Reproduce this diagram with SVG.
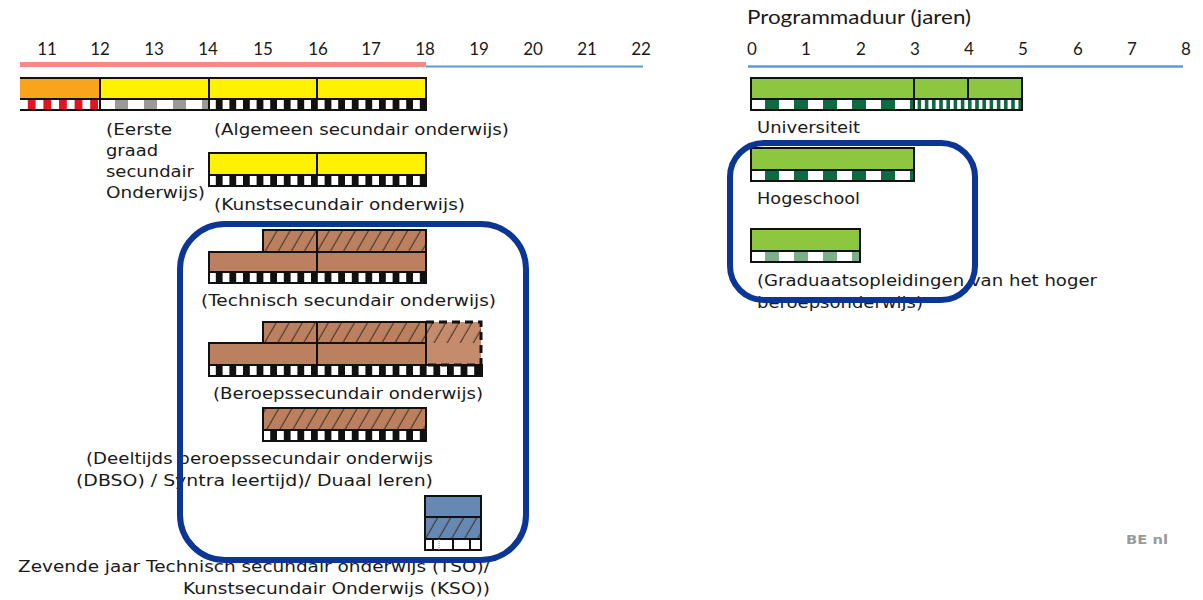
<svg xmlns="http://www.w3.org/2000/svg" width="1203" height="600" viewBox="0 0 1203 600">
<defs>
<style>
.ln{fill:none;stroke:#111;stroke-width:2}
.brown{fill:#bb8060}
.hatch{fill:url(#hatch)}
.bw{fill:url(#pBW)}
.white{fill:#fff}
.t{font-family:"DejaVu Sans",Verdana,sans-serif;font-size:15.5px;fill:#1a1a1a}
.ax{font-family:Lato,"Open Sans",sans-serif;font-size:17px;fill:#1a1a1a;text-anchor:middle}
.hl{fill:none;stroke:#0b3694;stroke-width:6}
.green{fill:#8dc63f}
</style>
<pattern id="pBW" patternUnits="userSpaceOnUse" x="209" y="0" width="13.6" height="40"><rect x="6.8" y="0" width="6.8" height="40" fill="#111"/></pattern>
<pattern id="pRed" patternUnits="userSpaceOnUse" x="20" y="0" width="15.6" height="40"><rect x="7.8" y="0" width="7.8" height="40" fill="#e3141c"/></pattern>
<pattern id="pGray" patternUnits="userSpaceOnUse" x="100" y="0" width="29" height="40"><rect x="15" y="0" width="13" height="40" fill="#9a9a9a"/></pattern>
<pattern id="pDG" patternUnits="userSpaceOnUse" x="751" y="0" width="29" height="40"><rect x="14" y="0" width="14" height="40" fill="#0d6b3f"/></pattern>
<pattern id="pLG" patternUnits="userSpaceOnUse" x="751" y="0" width="29" height="40"><rect x="14" y="0" width="14" height="40" fill="#7daf8a"/></pattern>
<pattern id="pDGf" patternUnits="userSpaceOnUse" x="914" y="0" width="7.2" height="40"><rect x="3.6" y="0" width="3.6" height="40" fill="#0d6b3f"/></pattern>
<pattern id="hatch" patternUnits="userSpaceOnUse" width="11.3" height="20" patternTransform="rotate(30)"><line x1="5" y1="-2" x2="5" y2="22" stroke="#3b2a1e" stroke-width="1"/></pattern>
</defs>
<rect width="1203" height="600" fill="#fff"/>

<g id="axis-left">
<line x1="20" y1="64.5" x2="426" y2="64.5" stroke="#f28b82" stroke-width="5"/>
<line x1="426" y1="66.5" x2="643" y2="66.5" stroke="#5b9bd5" stroke-width="2"/>
<text class="ax" x="47" y="55">11</text>
<text class="ax" x="100" y="55">12</text>
<text class="ax" x="154" y="55">13</text>
<text class="ax" x="208" y="55">14</text>
<text class="ax" x="263" y="55">15</text>
<text class="ax" x="318" y="55">16</text>
<text class="ax" x="371" y="55">17</text>
<text class="ax" x="425" y="55">18</text>
<text class="ax" x="479" y="55">19</text>
<text class="ax" x="533" y="55">20</text>
<text class="ax" x="587" y="55">21</text>
<text class="ax" x="641" y="55">22</text>
</g>

<g id="axis-right">
<text x="747" y="24" font-family="Lato,'Open Sans',sans-serif" font-size="20" fill="#1a1a1a" textLength="224" lengthAdjust="spacingAndGlyphs">Programmaduur (jaren)</text>
<line x1="748" y1="66.5" x2="1183" y2="66.5" stroke="#5b9bd5" stroke-width="2.5"/>
<text class="ax" x="752" y="55">0</text>
<text class="ax" x="806" y="55">1</text>
<text class="ax" x="861" y="55">2</text>
<text class="ax" x="915" y="55">3</text>
<text class="ax" x="969" y="55">4</text>
<text class="ax" x="1023" y="55">5</text>
<text class="ax" x="1078" y="55">6</text>
<text class="ax" x="1132" y="55">7</text>
<text class="ax" x="1186" y="55">8</text>
</g>

<g id="node-eerste-graad">
<rect x="20" y="78" width="80" height="21" fill="#f8a51b"/>
<rect x="20" y="99" width="80" height="11" fill="#fff"/>
<rect x="20" y="99" width="80" height="11" fill="url(#pRed)"/>
<rect x="100" y="99" width="109" height="11" fill="#fff"/>
<rect x="100" y="99" width="109" height="11" fill="url(#pGray)"/>
<text class="t" x="106" y="135" textLength="66" lengthAdjust="spacingAndGlyphs">(Eerste</text>
<text class="t" x="106" y="156" textLength="52" lengthAdjust="spacingAndGlyphs">graad</text>
<text class="t" x="106" y="177" textLength="88" lengthAdjust="spacingAndGlyphs">secundair</text>
<text class="t" x="106" y="198" textLength="99" lengthAdjust="spacingAndGlyphs">Onderwijs)</text>
</g>

<g id="node-algemeen">
<rect x="100" y="78" width="326" height="21" fill="#fff200"/>
<rect x="209" y="99" width="217" height="11" fill="#fff"/>
<rect x="209" y="99" width="217" height="11" class="bw"/>
<path class="ln" d="M20 78H426V110H20M20 99H426M100 78V110M209 78V110M317 78V99"/>
<text class="t" x="214" y="135" textLength="295" lengthAdjust="spacingAndGlyphs">(Algemeen secundair onderwijs)</text>
</g>

<g id="node-kunst">
<rect x="209" y="153" width="217" height="22" fill="#fff200"/>
<rect x="209" y="175" width="217" height="11" fill="#fff"/>
<rect x="209" y="175" width="217" height="11" class="bw"/>
<path class="ln" d="M209 153H426V186H209ZM209 175H426M317 153V175"/>
<text class="t" x="214" y="210" textLength="251" lengthAdjust="spacingAndGlyphs">(Kunstsecundair onderwijs)</text>
</g>

<g id="node-technisch">
<rect x="263" y="230" width="163" height="22" class="brown"/>
<rect x="263" y="230" width="163" height="22" class="hatch"/>
<rect x="209" y="252" width="217" height="20" class="brown"/>
<rect x="209" y="272" width="217" height="11" class="white"/>
<rect x="209" y="272" width="217" height="11" class="bw"/>
<path class="ln" d="M263 230H426V283H209V252H263ZM209 252H426M209 272H426M317 230V272"/>
<text class="t" x="201" y="306" textLength="295" lengthAdjust="spacingAndGlyphs">(Technisch secundair onderwijs)</text>
</g>

<g id="node-beroeps">
<rect x="263" y="322" width="163" height="21" class="brown"/>
<rect x="263" y="322" width="163" height="21" class="hatch"/>
<rect x="209" y="343" width="217" height="22" class="brown"/>
<rect x="426" y="322" width="55" height="43" fill="#c48c6c"/>
<rect x="426" y="322" width="55" height="21" class="hatch"/>
<rect x="209" y="365" width="273" height="11" class="white"/>
<rect x="209" y="365" width="273" height="11" class="bw"/>
<path class="ln" d="M263 322H426V365H209V343H263ZM209 343H426M317 322V365M209 365H482V376H209Z"/>
<path d="M426 322H481V365H426" fill="none" stroke="#111" stroke-width="3" stroke-dasharray="8 5"/>
<text class="t" x="213" y="399" textLength="270" lengthAdjust="spacingAndGlyphs">(Beroepssecundair onderwijs)</text>
</g>

<g id="node-deeltijds">
<rect x="263" y="408" width="163" height="22" class="brown"/>
<rect x="263" y="408" width="163" height="22" class="hatch"/>
<rect x="263" y="430" width="163" height="11" class="white"/>
<rect x="263" y="430" width="163" height="11" class="bw"/>
<path class="ln" d="M263 408H426V441H263ZM263 430H426"/>
<text class="t" x="86" y="464" textLength="347" lengthAdjust="spacingAndGlyphs">(Deeltijds beroepssecundair onderwijs</text>
<text class="t" x="76" y="486" textLength="357" lengthAdjust="spacingAndGlyphs">(DBSO) / Syntra leertijd)/ Duaal leren)</text>
</g>

<g id="node-zevende-jaar">
<rect x="425" y="496" width="56" height="21" fill="#6888b4"/>
<rect x="425" y="517" width="56" height="22" fill="#6888b4"/>
<rect x="425" y="517" width="56" height="22" class="hatch"/>
<rect x="425" y="539" width="56" height="11" class="white"/>
<path class="ln" d="M425 496H481V550H425ZM425 517H481M425 539H481M433 539V550M453 539V550M470 539V550"/>
<line x1="439" y1="539" x2="439" y2="550" stroke="#888" stroke-width="1" stroke-dasharray="1 1"/>
<text class="t" x="18" y="572" textLength="472" lengthAdjust="spacingAndGlyphs">Zevende jaar Technisch secundair onderwijs (TSO)/</text>
<text class="t" x="183" y="594" textLength="307" lengthAdjust="spacingAndGlyphs">Kunstsecundair Onderwijs (KSO))</text>
</g>

<g id="node-universiteit">
<rect x="751" y="78" width="271" height="21" class="green"/>
<rect x="751" y="99" width="271" height="11" class="white"/>
<rect x="751" y="99" width="163" height="11" fill="url(#pDG)"/>
<rect x="914" y="99" width="108" height="11" fill="url(#pDGf)"/>
<path class="ln" d="M751 78H1022V110H751ZM751 99H1022M914 78V110M968 78V99"/>
<text class="t" x="757" y="133" textLength="103" lengthAdjust="spacingAndGlyphs">Universiteit</text>
</g>

<g id="node-hogeschool">
<rect x="751" y="148" width="163" height="22" class="green"/>
<rect x="751" y="170" width="163" height="11" class="white"/>
<rect x="751" y="170" width="163" height="11" fill="url(#pDG)"/>
<path class="ln" d="M751 148H914V181H751ZM751 170H914"/>
<text class="t" x="757" y="204" textLength="103" lengthAdjust="spacingAndGlyphs">Hogeschool</text>
</g>

<g id="node-graduaat">
<rect x="751" y="229" width="109" height="22" class="green"/>
<rect x="751" y="251" width="109" height="11" class="white"/>
<rect x="751" y="251" width="109" height="11" fill="url(#pLG)"/>
<path class="ln" d="M751 229H860V262H751ZM751 251H860"/>
<text class="t" x="757" y="286" textLength="340" lengthAdjust="spacingAndGlyphs">(Graduaatsopleidingen van het hoger</text>
<text class="t" x="757" y="308" textLength="166" lengthAdjust="spacingAndGlyphs">beroepsonderwijs)</text>
</g>

<g id="highlights">
<rect class="hl" x="180" y="224" width="346" height="336" rx="45" ry="45"/>
<rect class="hl" x="730" y="143" width="245" height="157" rx="34" ry="34"/>
</g>

<g id="source-label">
<text x="1126" y="544" font-family="'DejaVu Sans',Verdana,sans-serif" font-size="13" font-weight="bold" fill="#9a9a9a" textLength="42" lengthAdjust="spacingAndGlyphs">BE nl</text>
</g>

<g id="connectors"/>
</svg>
